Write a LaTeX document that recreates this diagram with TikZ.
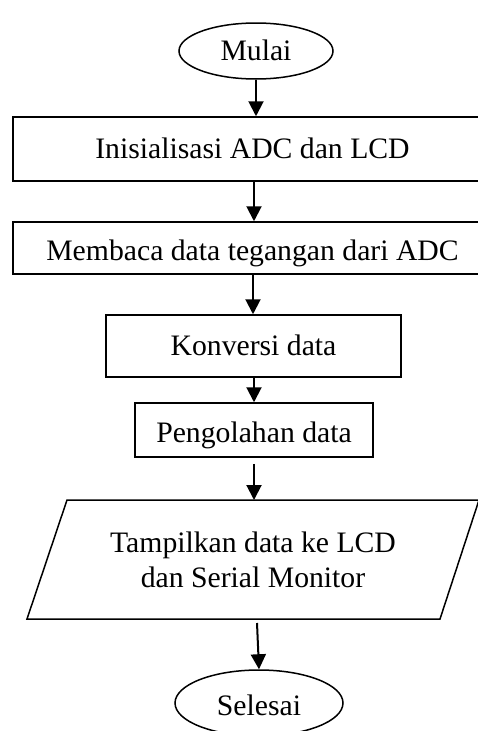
\documentclass[tikz,border=0pt]{standalone}
\usepackage{fontspec}
\setmainfont{Liberation Serif}
\usetikzlibrary{shapes.geometric,arrows.meta}
\begin{document}
\begin{tikzpicture}[x=1pt,y=-1pt,
  every node/.style={font=\fontsize{29.7}{35}\selectfont, inner sep=0pt, text height=18pt, text depth=0pt},
  procbox/.style={draw, line width=1.5pt, rectangle},
  termbox/.style={draw, line width=1.5pt, ellipse},
  arr/.style={line width=2pt, -{Triangle[width=15pt,length=15pt]}},
  edgeline/.style={line width=1.5pt, line join=miter}]
\useasboundingbox (0,0) rectangle (478,731);
\clip (0,0) rectangle (478,731);
\node[termbox, minimum width=154pt, minimum height=56pt] (mulai) at (256,51) {Mulai};
\node[procbox, minimum width=479pt, minimum height=64pt] (b1) at (252.5,149) {Inisialisasi ADC dan LCD};
\node[procbox, minimum width=479pt, minimum height=52pt] (b2) at (252.5,248) {\raisebox{-3pt}{Membaca data tegangan dari ADC}};
\node[procbox, minimum width=295pt, minimum height=62pt] (b3) at (253.5,346) {Konversi data};
\node[procbox, minimum width=238pt, minimum height=54pt] (b4) at (254,430) {\raisebox{-3pt}{Pengolahan data}};
\node[align=center] (io) at (253,578.5) {Tampilkan data ke LCD\\dan Serial Monitor};
\coordinate (ptl) at (67,500);
\coordinate (ptr) at (479,500);
\coordinate (pbr) at (440,619);
\coordinate (pbl) at (27,619);
\draw[edgeline] (ptl) -- (ptr) -- (pbr) -- (pbl) -- cycle;
\coordinate (iotop) at (254,500);
\coordinate (iobot) at (257,623);
\node[termbox, minimum width=168pt, minimum height=66pt] (selesai) at (259,703) {\raisebox{-3pt}{Selesai}};
\draw[arr] (mulai.south) -- (mulai.south |- b1.north);
\draw[arr] ([xshift=1.5pt]b1.south) -- ([xshift=1.5pt]b2.north);
\draw[arr] ([xshift=0.5pt]b2.south) -- ([xshift=0.5pt]b2.south |- b3.north);
\draw[arr] (b3.south -| b4.north) -- (b4.north);
\draw[arr, shorten <=6pt] (b4.south) -- (iotop);
\draw[arr] (iobot) -- (selesai.north);
\end{tikzpicture}
\end{document}
